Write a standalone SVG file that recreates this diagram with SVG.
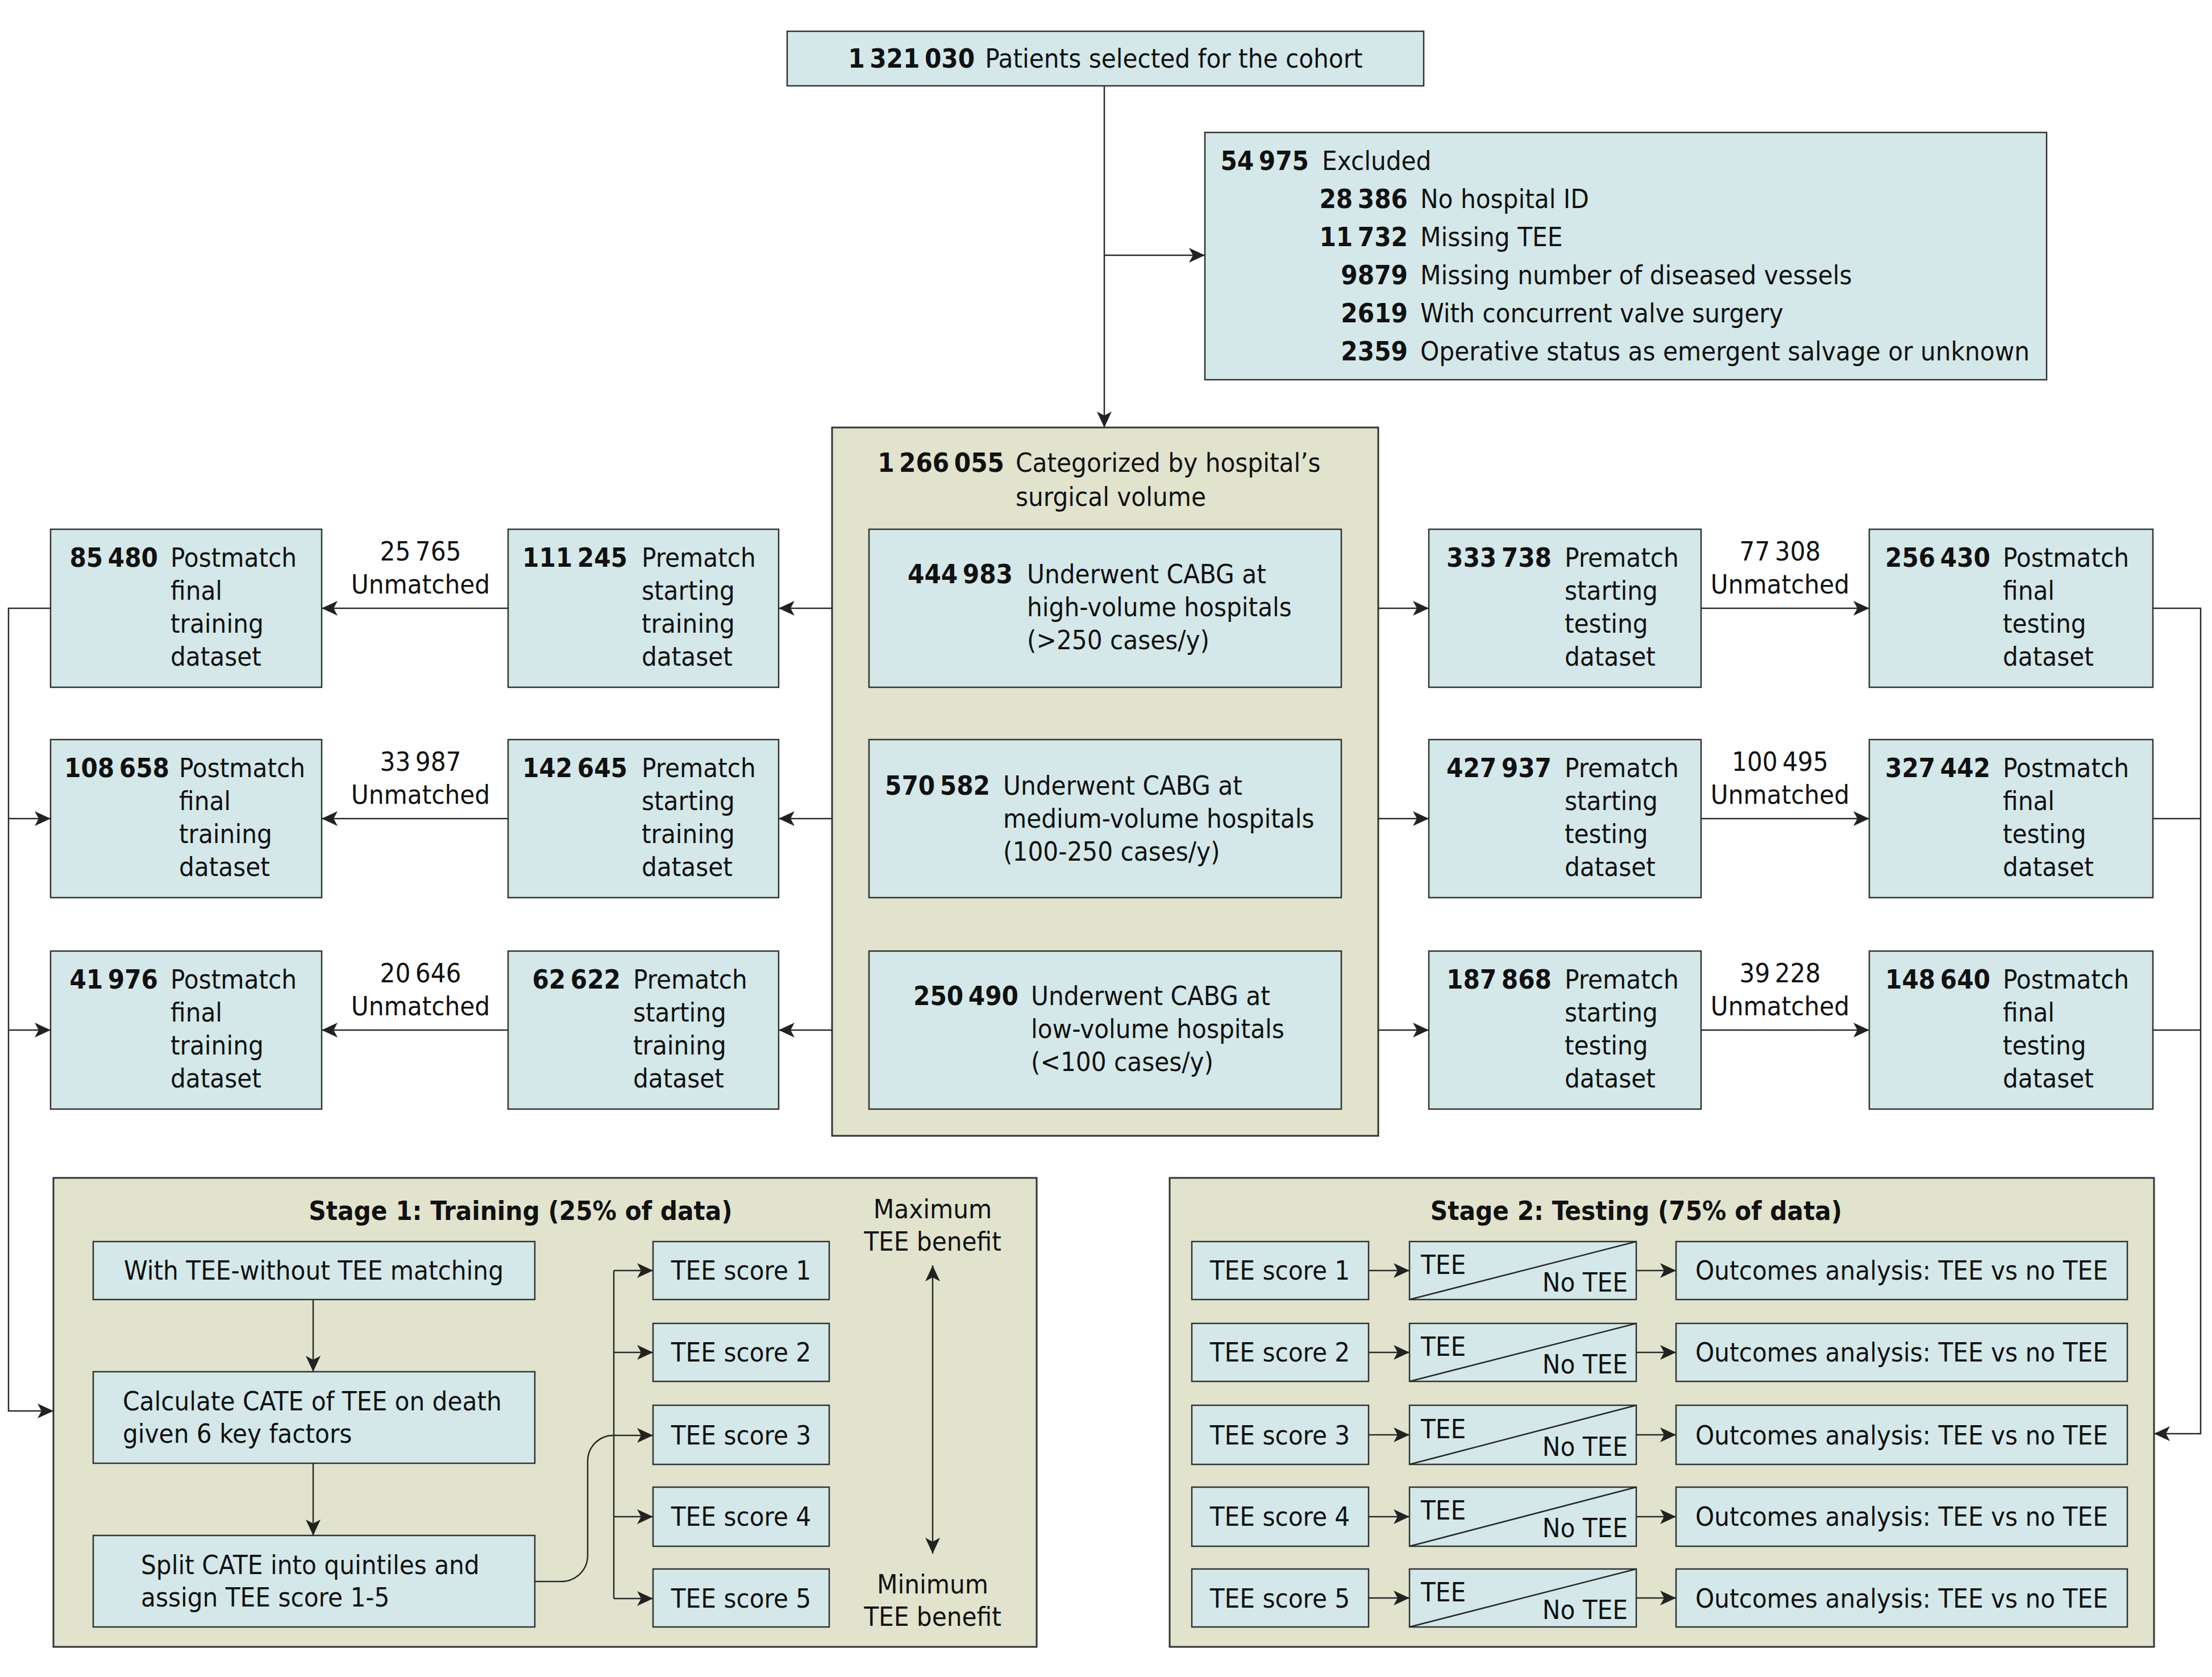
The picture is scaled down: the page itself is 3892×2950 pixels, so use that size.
<svg xmlns="http://www.w3.org/2000/svg" width="3892" height="2950" viewBox="0 0 3892 2950">
<style>
text{font-family:"Liberation Sans Narrow","DejaVu Sans Condensed","Liberation Sans",sans-serif;font-size:47px;fill:#111}
.b{font-weight:bold}
.m{text-anchor:middle}
.e{text-anchor:end}
.bx{fill:#d4e8e9;stroke:#333;stroke-width:2.5}
.ol{fill:#e1e3cd;stroke:#333;stroke-width:3}
.ln{fill:none;stroke:#2a2a2a;stroke-width:2.5}
.ar{marker-end:url(#a)}
</style>
<defs>
<marker id="a" markerUnits="userSpaceOnUse" markerWidth="30" markerHeight="26" refX="28" refY="13" orient="auto"><path d="M0,0 L28,13 L0,26 L7,13 Z" fill="#222"/></marker>
<marker id="s" markerUnits="userSpaceOnUse" markerWidth="30" markerHeight="26" refX="28" refY="13" orient="auto-start-reverse"><path d="M0,0 L28,13 L0,26 L7,13 Z" fill="#222"/></marker>
</defs>
<rect width="3892" height="2950" fill="#fff"/>

<g id="n-cohort"><rect class="bx" x="1385" y="55" width="1120" height="96"/>
<text x="1945" y="119" class="m"><tspan class="b">1&#8201;321&#8201;030</tspan><tspan dx="18">Patients selected for the cohort</tspan></text></g>

<g id="n-excluded"><rect class="bx" x="2120" y="233" width="1481" height="435"/>
<text x="2303" y="299" class="e b">54&#8201;975</text><text x="2326" y="299">Excluded</text>
<text x="2477" y="366" class="e b">28&#8201;386</text><text x="2499" y="366">No hospital ID</text>
<text x="2477" y="433" class="e b">11&#8201;732</text><text x="2499" y="433">Missing TEE</text>
<text x="2477" y="500" class="e b">9879</text><text x="2499" y="500">Missing number of diseased vessels</text>
<text x="2477" y="567" class="e b">2619</text><text x="2499" y="567">With concurrent valve surgery</text>
<text x="2477" y="634" class="e b">2359</text><text x="2499" y="634">Operative status as emergent salvage or unknown</text></g>

<g id="n-categorized"><rect class="ol" x="1464" y="752" width="961" height="1246"/>
<text x="1767" y="830" class="e b">1&#8201;266&#8201;055</text><text x="1787" y="830">Categorized by hospital’s</text>
<text x="1787" y="890">surgical volume</text></g>

<g id="n-high"><rect class="bx" x="1529" y="931" width="831" height="278"/>
<text x="1782" y="1026" class="e b">444&#8201;983</text>
<text x="1807" y="1026">Underwent CABG at</text><text x="1807" y="1084">high-volume hospitals</text><text x="1807" y="1142">(&gt;250 cases/y)</text></g>

<g id="n-medium"><rect class="bx" x="1529" y="1301" width="831" height="278"/>
<text x="1742" y="1398" class="e b">570&#8201;582</text>
<text x="1765" y="1398">Underwent CABG at</text><text x="1765" y="1456">medium-volume hospitals</text><text x="1765" y="1514">(100-250 cases/y)</text></g>

<g id="n-low"><rect class="bx" x="1529" y="1673" width="831" height="278"/>
<text x="1792" y="1768" class="e b">250&#8201;490</text>
<text x="1814" y="1768">Underwent CABG at</text><text x="1814" y="1826">low-volume hospitals</text><text x="1814" y="1884">(&lt;100 cases/y)</text></g>

<g id="n-pre-train-1"><rect class="bx" x="894" y="931" width="476" height="278"/>
<text x="1104" y="997" class="e b">111&#8201;245</text>
<text x="1129" y="997">Prematch</text><text x="1129" y="1055">starting</text><text x="1129" y="1113">training</text><text x="1129" y="1171">dataset</text></g>
<g id="n-pre-train-2"><rect class="bx" x="894" y="1301" width="476" height="278"/>
<text x="1104" y="1367" class="e b">142&#8201;645</text>
<text x="1129" y="1367">Prematch</text><text x="1129" y="1425">starting</text><text x="1129" y="1483">training</text><text x="1129" y="1541">dataset</text></g>
<g id="n-pre-train-3"><rect class="bx" x="894" y="1673" width="476" height="278"/>
<text x="1092" y="1739" class="e b">62&#8201;622</text>
<text x="1114" y="1739">Prematch</text><text x="1114" y="1797">starting</text><text x="1114" y="1855">training</text><text x="1114" y="1913">dataset</text></g>

<g id="n-post-train-1"><rect class="bx" x="89" y="931" width="477" height="278"/>
<text x="278" y="997" class="e b">85&#8201;480</text>
<text x="300" y="997">Postmatch</text><text x="300" y="1055">final</text><text x="300" y="1113">training</text><text x="300" y="1171">dataset</text></g>
<g id="n-post-train-2"><rect class="bx" x="89" y="1301" width="477" height="278"/>
<text x="298" y="1367" class="e b">108&#8201;658</text>
<text x="315" y="1367">Postmatch</text><text x="315" y="1425">final</text><text x="315" y="1483">training</text><text x="315" y="1541">dataset</text></g>
<g id="n-post-train-3"><rect class="bx" x="89" y="1673" width="477" height="278"/>
<text x="278" y="1739" class="e b">41&#8201;976</text>
<text x="300" y="1739">Postmatch</text><text x="300" y="1797">final</text><text x="300" y="1855">training</text><text x="300" y="1913">dataset</text></g>

<g id="n-pre-test-1"><rect class="bx" x="2514" y="931" width="479" height="278"/>
<text x="2730" y="997" class="e b">333&#8201;738</text>
<text x="2753" y="997">Prematch</text><text x="2753" y="1055">starting</text><text x="2753" y="1113">testing</text><text x="2753" y="1171">dataset</text></g>
<g id="n-pre-test-2"><rect class="bx" x="2514" y="1301" width="479" height="278"/>
<text x="2730" y="1367" class="e b">427&#8201;937</text>
<text x="2753" y="1367">Prematch</text><text x="2753" y="1425">starting</text><text x="2753" y="1483">testing</text><text x="2753" y="1541">dataset</text></g>
<g id="n-pre-test-3"><rect class="bx" x="2514" y="1673" width="479" height="278"/>
<text x="2730" y="1739" class="e b">187&#8201;868</text>
<text x="2753" y="1739">Prematch</text><text x="2753" y="1797">starting</text><text x="2753" y="1855">testing</text><text x="2753" y="1913">dataset</text></g>

<g id="n-post-test-1"><rect class="bx" x="3289" y="931" width="499" height="278"/>
<text x="3502" y="997" class="e b">256&#8201;430</text>
<text x="3524" y="997">Postmatch</text><text x="3524" y="1055">final</text><text x="3524" y="1113">testing</text><text x="3524" y="1171">dataset</text></g>
<g id="n-post-test-2"><rect class="bx" x="3289" y="1301" width="499" height="278"/>
<text x="3502" y="1367" class="e b">327&#8201;442</text>
<text x="3524" y="1367">Postmatch</text><text x="3524" y="1425">final</text><text x="3524" y="1483">testing</text><text x="3524" y="1541">dataset</text></g>
<g id="n-post-test-3"><rect class="bx" x="3289" y="1673" width="499" height="278"/>
<text x="3502" y="1739" class="e b">148&#8201;640</text>
<text x="3524" y="1739">Postmatch</text><text x="3524" y="1797">final</text><text x="3524" y="1855">testing</text><text x="3524" y="1913">dataset</text></g>

<g id="labels-unmatched">
<text x="740" y="986" class="m">25&#8201;765</text><text x="740" y="1044" class="m">Unmatched</text>
<text x="740" y="1356" class="m">33&#8201;987</text><text x="740" y="1414" class="m">Unmatched</text>
<text x="740" y="1728" class="m">20&#8201;646</text><text x="740" y="1786" class="m">Unmatched</text>
<text x="3132" y="986" class="m">77&#8201;308</text><text x="3132" y="1044" class="m">Unmatched</text>
<text x="3132" y="1356" class="m">100&#8201;495</text><text x="3132" y="1414" class="m">Unmatched</text>
<text x="3132" y="1728" class="m">39&#8201;228</text><text x="3132" y="1786" class="m">Unmatched</text>
</g>

<g id="n-stage1"><rect class="ol" x="94" y="2072" width="1730" height="825"/>
<text x="916" y="2146" class="m b">Stage 1: Training (25% of data)</text>
<text x="1641" y="2143" class="m">Maximum</text><text x="1641" y="2200" class="m">TEE benefit</text>
<text x="1641" y="2803" class="m">Minimum</text><text x="1641" y="2860" class="m">TEE benefit</text></g>
<g id="n-matching"><rect class="bx" x="164" y="2184" width="777" height="102"/><text x="552" y="2251" class="m">With TEE-without TEE matching</text></g>
<g id="n-cate"><rect class="bx" x="164" y="2413" width="777" height="161"/><text x="216" y="2481">Calculate CATE of TEE on death</text><text x="216" y="2538">given 6 key factors</text></g>
<g id="n-split"><rect class="bx" x="164" y="2701" width="777" height="161"/><text x="248" y="2769">Split CATE into quintiles and</text><text x="248" y="2826">assign TEE score 1-5</text></g>
<g id="n-s1-score1"><rect class="bx" x="1149" y="2184" width="310" height="102"/><text x="1304" y="2251" class="m">TEE score 1</text></g>
<g id="n-s1-score2"><rect class="bx" x="1149" y="2328" width="310" height="102"/><text x="1304" y="2395" class="m">TEE score 2</text></g>
<g id="n-s1-score3"><rect class="bx" x="1149" y="2472" width="310" height="104"/><text x="1304" y="2541" class="m">TEE score 3</text></g>
<g id="n-s1-score4"><rect class="bx" x="1149" y="2616" width="310" height="104"/><text x="1304" y="2684" class="m">TEE score 4</text></g>
<g id="n-s1-score5"><rect class="bx" x="1149" y="2760" width="310" height="102"/><text x="1304" y="2828" class="m">TEE score 5</text></g>

<g id="n-stage2"><rect class="ol" x="2058" y="2072" width="1732" height="825"/>
<text x="2879" y="2146" class="m b">Stage 2: Testing (75% of data)</text></g>
<g id="n-s2-row1"><rect class="bx" x="2097" y="2184" width="311" height="102"/><text x="2252" y="2251" class="m">TEE score 1</text>
<rect class="bx" x="2480" y="2184" width="399" height="102"/><path class="ln" d="M2480,2286 L2879,2184"/><text x="2500" y="2241">TEE</text><text x="2864" y="2272" class="e">No TEE</text>
<rect class="bx" x="2949" y="2184" width="794" height="102"/><text x="3346" y="2251" class="m">Outcomes analysis: TEE vs no TEE</text></g>
<g id="n-s2-row2"><rect class="bx" x="2097" y="2328" width="311" height="102"/><text x="2252" y="2395" class="m">TEE score 2</text>
<rect class="bx" x="2480" y="2328" width="399" height="102"/><path class="ln" d="M2480,2430 L2879,2328"/><text x="2500" y="2385">TEE</text><text x="2864" y="2416" class="e">No TEE</text>
<rect class="bx" x="2949" y="2328" width="794" height="102"/><text x="3346" y="2395" class="m">Outcomes analysis: TEE vs no TEE</text></g>
<g id="n-s2-row3"><rect class="bx" x="2097" y="2472" width="311" height="104"/><text x="2252" y="2541" class="m">TEE score 3</text>
<rect class="bx" x="2480" y="2472" width="399" height="104"/><path class="ln" d="M2480,2576 L2879,2472"/><text x="2500" y="2530">TEE</text><text x="2864" y="2561" class="e">No TEE</text>
<rect class="bx" x="2949" y="2472" width="794" height="104"/><text x="3346" y="2541" class="m">Outcomes analysis: TEE vs no TEE</text></g>
<g id="n-s2-row4"><rect class="bx" x="2097" y="2616" width="311" height="104"/><text x="2252" y="2684" class="m">TEE score 4</text>
<rect class="bx" x="2480" y="2616" width="399" height="104"/><path class="ln" d="M2480,2720 L2879,2616"/><text x="2500" y="2673">TEE</text><text x="2864" y="2704" class="e">No TEE</text>
<rect class="bx" x="2949" y="2616" width="794" height="104"/><text x="3346" y="2684" class="m">Outcomes analysis: TEE vs no TEE</text></g>
<g id="n-s2-row5"><rect class="bx" x="2097" y="2760" width="311" height="102"/><text x="2252" y="2828" class="m">TEE score 5</text>
<rect class="bx" x="2480" y="2760" width="399" height="102"/><path class="ln" d="M2480,2862 L2879,2760"/><text x="2500" y="2817">TEE</text><text x="2864" y="2848" class="e">No TEE</text>
<rect class="bx" x="2949" y="2760" width="794" height="102"/><text x="3346" y="2828" class="m">Outcomes analysis: TEE vs no TEE</text></g>

<g id="connectors">
<path class="ln ar" d="M1943,151 V752"/>
<path class="ln ar" d="M1943,449 H2120"/>
<path class="ln ar" d="M1464,1070 H1370"/>
<path class="ln ar" d="M1464,1440 H1370"/>
<path class="ln ar" d="M1464,1812 H1370"/>
<path class="ln ar" d="M894,1070 H566"/>
<path class="ln ar" d="M894,1440 H566"/>
<path class="ln ar" d="M894,1812 H566"/>
<path class="ln ar" d="M2425,1070 H2514"/>
<path class="ln ar" d="M2425,1440 H2514"/>
<path class="ln ar" d="M2425,1812 H2514"/>
<path class="ln ar" d="M2993,1070 H3289"/>
<path class="ln ar" d="M2993,1440 H3289"/>
<path class="ln ar" d="M2993,1812 H3289"/>
<path class="ln ar" d="M89,1070 H15 V2482 H94"/>
<path class="ln ar" d="M15,1440 H89"/>
<path class="ln ar" d="M15,1812 H89"/>
<path class="ln ar" d="M3788,1070 H3872 V2522 H3790"/>
<path class="ln" d="M3788,1440 H3872"/>
<path class="ln" d="M3788,1812 H3872"/>
<path class="ln ar" d="M551,2286 V2413"/>
<path class="ln ar" d="M551,2574 V2701"/>
<path class="ln" d="M1080,2235 V2812"/>
<path class="ln ar" d="M1080,2235 H1149"/>
<path class="ln ar" d="M1080,2379 H1149"/>
<path class="ln ar" d="M1080,2668 H1149"/>
<path class="ln ar" d="M1080,2812 H1149"/>
<path class="ln ar" d="M941,2782 H988 A46,46 0 0 0 1034,2736 V2570 A45,45 0 0 1 1079,2525 H1149"/>
<path class="ln" d="M1641,2226 V2733" marker-start="url(#s)" marker-end="url(#a)"/>
<path class="ln ar" d="M2408,2235 H2480"/>
<path class="ln ar" d="M2408,2379 H2480"/>
<path class="ln ar" d="M2408,2524 H2480"/>
<path class="ln ar" d="M2408,2668 H2480"/>
<path class="ln ar" d="M2408,2811 H2480"/>
<path class="ln ar" d="M2879,2235 H2949"/>
<path class="ln ar" d="M2879,2379 H2949"/>
<path class="ln ar" d="M2879,2524 H2949"/>
<path class="ln ar" d="M2879,2668 H2949"/>
<path class="ln ar" d="M2879,2811 H2949"/>
</g>
</svg>
